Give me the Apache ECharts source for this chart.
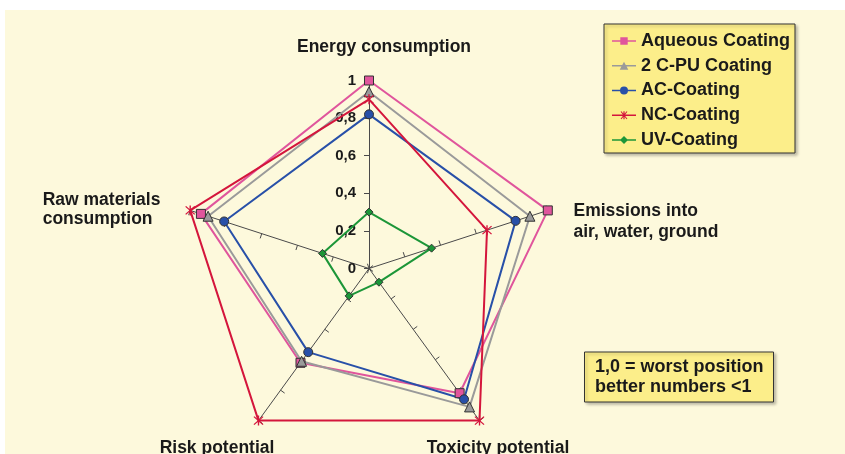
<!DOCTYPE html>
<html>
<head>
<meta charset="utf-8">
<script src="https://cdn.jsdelivr.net/npm/echarts@6/dist/echarts.min.js"></script>
<style>
  html, body { margin: 0; padding: 0; background: #ffffff; }
  #chart { position: absolute; left: 5px; top: 10px; width: 840px; height: 444px; background: #fdf9dc; }
</style>
</head>
<body>
<div id="chart"></div>
<script>
// Criteria around the radar (counter-clockwise from the top)
const criteria = [
  'Energy consumption',
  'Raw materials\nconsumption',
  'Risk potential',
  'Toxicity potential',
  'Emissions into\nair, water, ground'
];

// Relative scores per coating, in the order of `criteria`
const aqueousCoating = [1.0, 0.94, 0.62, 0.82, 1.0];
const pu2cCoating    = [0.94, 0.90, 0.61, 0.91, 0.90];
const acCoating      = [0.82, 0.81, 0.55, 0.86, 0.82];
const ncCoating      = [0.90, 1.0, 1.0, 1.0, 0.66];
const uvCoating      = [0.30, 0.26, 0.18, 0.09, 0.35];

const seriesNames = ['Aqueous Coating', '2 C-PU Coating', 'AC-Coating', 'NC-Coating', 'UV-Coating'];
const noteText = '1,0 = worst position\nbetter numbers <1';

const FONT = '"Liberation Sans", Arial, sans-serif';
const INK = '#1a1a1a';

// marker shapes
const asterisk = 'path://M4.4,0L5.6,0L5.6,10L4.4,10Z M0.6,1.4L1.4,0.6L9.4,8.6L8.6,9.4Z M8.6,0.6L9.4,1.4L1.4,9.4L0.6,8.6Z';

// legend icons: a short line with the series marker in its middle
const lineBar = 'M0,3.2L24,3.2L24,4.8L0,4.8Z ';
const legendIcons = [
  'path://' + lineBar + 'M8.3,0.3L15.7,0.3L15.7,7.7L8.3,7.7Z',
  'path://' + lineBar + 'M12,0L16.3,8L7.7,8Z',
  'path://' + lineBar + 'M16,4A4,4 0 1 1 8,4A4,4 0 1 1 16,4Z',
  'path://' + lineBar + 'M11.4,0L12.6,0L12.6,8L11.4,8Z M8.6,0.6L9.4,0L15.4,7.4L14.6,8Z M14.6,0L15.4,0.6L9.4,8L8.6,7.4Z',
  'path://' + lineBar + 'M12,0L16,4L12,8L8,4Z'
];

// where each criterion's name sits, in chart pixels
const nameLayout = [
  { x: 379, y: 37.5, align: 'center', verticalAlign: 'middle', lineHeight: 20 },
  { x: 37.7, y: 180.2, align: 'left', verticalAlign: 'top', lineHeight: 19 },
  { x: 212, y: 438.4, align: 'center', verticalAlign: 'middle', lineHeight: 20 },
  { x: 493, y: 438.4, align: 'center', verticalAlign: 'middle', lineHeight: 20 },
  { x: 568.5, y: 190.4, align: 'left', verticalAlign: 'top', lineHeight: 21 }
];

const indicators = criteria.map((name, i) => {
  const ind = { name: name, min: 0, max: 1 };
  if (i === 0) ind.axisLabel = { show: true };
  return ind;
});

function radarSeries(name, values, color, symbol, size, border) {
  return {
    type: 'radar',
    name: name,
    symbol: symbol,
    symbolSize: size,
    lineStyle: { color: color, width: 2 },
    itemStyle: { color: color, borderColor: border ? '#333' : color, borderWidth: border ? 1 : 0 },
    data: [{ name: name, value: values }]
  };
}

const chart = echarts.init(document.getElementById('chart'), null, { renderer: 'canvas' });
chart.setOption({
  animation: false,
  backgroundColor: '#fdf9dc',
  textStyle: { fontFamily: FONT },
  title: {
    text: noteText,
    left: 579,
    top: 341.5,
    padding: [6, 10, 5, 11],
    backgroundColor: '#fcee8a',
    borderColor: '#333',
    borderWidth: 1,
    shadowColor: 'rgba(0,0,0,0.25)',
    shadowBlur: 3,
    shadowOffsetX: 2,
    shadowOffsetY: 2,
    textStyle: { fontSize: 18, fontWeight: 'bold', color: INK, lineHeight: 20, fontFamily: FONT }
  },
  legend: {
    orient: 'vertical',
    left: 599,
    top: 14,
    padding: [8, 5, 4, 8],
    itemGap: 6.75,
    itemWidth: 24,
    itemHeight: 8,
    backgroundColor: '#fcee8a',
    borderColor: '#333',
    borderWidth: 1,
    shadowColor: 'rgba(0,0,0,0.25)',
    shadowBlur: 3,
    shadowOffsetX: 2,
    shadowOffsetY: 2,
    itemStyle: { borderWidth: 0 },
    textStyle: { fontSize: 18, fontWeight: 'bold', color: INK, fontFamily: FONT, lineHeight: 18 },
    data: seriesNames.map((n, i) => ({ name: n, icon: legendIcons[i] }))
  },
  graphic: criteria.map((name, i) => ({
    type: 'text',
    x: nameLayout[i].x,
    y: nameLayout[i].y,
    silent: true,
    style: {
      text: name,
      fill: INK,
      font: 'bold 17.5px ' + FONT,
      align: nameLayout[i].align,
      verticalAlign: nameLayout[i].verticalAlign,
      lineHeight: nameLayout[i].lineHeight
    }
  })),
  radar: {
    center: [364, 258.5],
    radius: 188,
    startAngle: 90,
    shape: 'polygon',
    splitNumber: 5,
    indicator: indicators,
    axisName: { show: false },
    axisLine: { lineStyle: { color: '#4a4a4a', width: 1 } },
    axisTick: { show: true, length: 5, lineStyle: { color: '#4a4a4a', width: 1 } },
    axisLabel: {
      show: false,
      margin: 13,
      padding: [4, 0, 0, 0],
      fontSize: 15,
      fontWeight: 'bold',
      color: INK,
      fontFamily: FONT,
      formatter: v => String(Math.round(v * 10) / 10).replace('.', ',')
    },
    splitLine: { show: false },
    splitArea: { show: false }
  },
  series: [
    radarSeries(seriesNames[0], aqueousCoating, '#e0559c', 'rect', 9, true),
    radarSeries(seriesNames[1], pu2cCoating, '#9a9a9a', 'triangle', 10, true),
    radarSeries(seriesNames[2], acCoating, '#2850a8', 'circle', 9, true),
    radarSeries(seriesNames[3], ncCoating, '#d4163c', asterisk, 10, false),
    radarSeries(seriesNames[4], uvCoating, '#1c9638', 'diamond', 8, true)
  ]
});
</script>
</body>
</html>
